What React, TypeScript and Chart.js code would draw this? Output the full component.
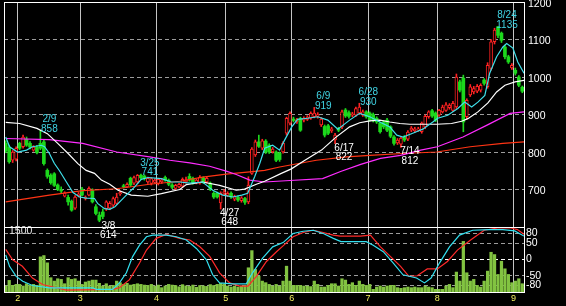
import React, { useEffect, useRef } from 'react';
import { Chart, registerables } from 'chart.js';

Chart.register(...registerables);

// ---- axis data ----
// trading-day index 0..149 (end of Jan .. early Sep); month lines sit at the first day of each month
const monthTickIdx = [3.5, 21.5, 43.5, 63.5, 82.5, 104.5, 124.5, 146.5];
const monthLabels = ['2', '3', '4', '5', '6', '7', '8', '9'];
const priceTicks = [700, 800, 900, 1000, 1100, 1200];
const oscTicks = [80, 50, 0, -50, -80];
const volumeTicks = [1500];

// ---- candles ----
const opens = [823,813,778,781,823,814,834,823,805,813, 823,827,751,738,742,712,699,682,679,669, 650,683,701,676,685,697,654,632,640,649, 650,658,663,688,710,707,730,717,720,738, 736,720,716,719,716,720,732,725,712,703, 707,709,720,735,730,718,717,731,720,717, 690,690,664,690,684,690,674,679,670,676, 667,743,792,827,810,829,818,800,800,797, 800,850,877,888,880,890,885,887,890,894, 895,872,868,870,856,832,862,867,912,905, 898,898,904,898,907,904,900,890,877,880, 885,867,840,824,821,840,834,858,856,859, 854,867,894,910,904,898,907,911,918,911, 920,987,997,894,952,960,962,965,992,974, 1023,1094,1134,1117,1080,1054,1024,1018,1000,973];
const highs = [830,818,804,814,826,845,840,828,817,818, 858,832,755,742,745,715,707,694,685,672, 684,692,706,683,707,702,660,640,648,670, 668,680,690,696,714,718,733,736,740,741, 739,733,732,729,730,730,736,728,716,714, 717,731,733,742,733,728,737,734,733,720, 694,693,694,700,694,694,685,683,681,679, 734,812,832,845,834,833,822,812,803,800, 828,893,907,893,890,893,894,897,907,919, 905,892,872,874,866,850,866,912,916,910, 906,920,930,912,910,907,904,894,880,884, 890,870,844,836,840,844,857,868,866,866, 880,899,910,914,907,914,925,932,929,935, 1008,992,1005,942,980,975,980,982,996,1038, 1100,1130,1135,1120,1085,1058,1036,1024,1004,976];
const lows = [798,770,772,776,806,810,815,808,802,795, 806,765,730,714,708,697,690,680,658,642, 647,680,683,672,683,664,632,614,622,644, 646,654,660,684,704,705,708,713,716,726, 725,716,712,716,712,716,722,710,702,700, 704,706,717,722,714,715,714,716,717,697, 676,677,648,686,681,676,670,668,666,660, 662,740,788,812,806,796,796,797,774,775, 797,845,872,880,876,855,880,884,887,891, 890,868,840,846,852,822,854,862,892,890, 894,895,900,895,890,882,880,876,850,862, 854,838,818,820,812,828,830,854,852,855, 850,862,890,892,881,895,904,908,914,908, 916,960,854,888,948,955,958,960,978,970, 1018,1088,1105,1092,1048,1036,1020,1005,974,958];
const closes = [803,774,800,810,810,840,818,813,813,798, 810,769,735,718,711,700,696,691,667,645, 680,688,685,680,703,667,636,618,628,667, 663,676,680,692,707,714,712,732,738,731, 729,730,729,725,727,726,725,714,706,711, 714,727,726,725,717,725,733,720,730,701, 680,680,690,694,690,680,681,672,678,666, 712,808,827,815,830,800,800,808,778,780, 823,890,903,884,886,858,890,893,903,904, 900,888,845,850,862,845,858,907,896,895, 902,916,920,907,894,885,885,880,854,867, 858,842,823,832,837,832,853,864,862,862, 877,895,907,896,885,911,920,926,925,930, 1000,965,880,938,974,969,975,978,983,1031, 1094,1125,1111,1098,1054,1040,1031,1010,978,962];
const volumes = [138,268,153,176,176,138,191,153,176,153, 811,841,673,330,252,306,291,191,330,291, 306,252,176,230,252,275,275,200,138,191, 138,153,252,215,176,200,160,176,191,176, 160,153,176,138,160,100,138,176,160,150, 120,170,140,130,160,110,150,140,130,170, 150,176,200,176,138,115,138,115,138,153, 559,955,520,367,252,215,176,138,176,138, 252,596,252,153,153,153,138,138,125,252, 176,115,115,153,191,191,138,306,275,176, 215,153,252,176,153,176,62,115,138,115, 138,153,153,100,85,100,115,100,115,100, 100,138,115,100,62,62,62,138,176,100, 460,252,1168,444,252,291,153,115,252,482, 917,864,405,710,535,405,215,252,306,191];

// ---- moving averages: [day index, price] ----
const maShort: [number, number][] = [[0,840],[1.1,814],[3.4,800],[6,805],[7.7,814],[10.3,818],[11.2,814],[12.6,796],[14,770],[15.5,750],[17.5,720],[19.4,692],[21.3,680],[23.2,677],[25.6,676],[26.5,663],[28.5,649],[30,647],[31.5,654],[33.3,671],[35.2,689],[37.2,707],[39.1,727],[41,732],[44.9,729],[47.8,720],[50.2,720],[53.1,717],[56.8,720],[59.7,698],[62.6,685],[65.5,680],[68.1,685],[69.8,690],[71.8,734],[73.3,770],[74.7,810],[77,818],[79,805],[80.4,831],[82.5,867],[84.2,887],[87.1,890],[90,894],[92.9,885],[95.8,861],[99.2,885],[102.1,903],[105,894],[107.9,880],[110.8,867],[112.8,845],[114.6,840],[117.4,850],[120.3,861],[123.2,880],[124.6,890],[127.5,898],[130.4,916],[132.4,933],[134.4,920],[136.2,933],[138.2,951],[139.6,1010],[141.6,1054],[143.4,1080],[144.5,1089],[146.3,1077],[147.7,1040],[149.5,1010]];
const maMid: [number, number][] = [[0,879],[4,876],[9,863],[12,849],[15,823],[18,796],[20.8,769],[23.2,751],[25.6,743],[27.6,725],[30,714],[32.4,698],[36.2,685],[41,682],[44.9,689],[50.2,700],[52.1,713],[56.8,720],[61.7,711],[66.5,698],[68.9,701],[72.3,714],[74.7,722],[79.5,743],[82.4,755],[86.3,778],[91.1,805],[95.2,839],[99.2,867],[102.1,878],[105,883],[107.9,885],[110.8,880],[113.7,876],[116.6,874],[119.5,874],[124.3,874],[128.6,876],[131.5,882],[133.3,889],[136.2,907],[139.1,931],[141.6,960],[144,978],[146.9,987],[149.5,991]];
const maLong: [number, number][] = [[0,836],[12.6,833],[22.2,823],[32,800],[41.5,787],[47.3,778],[53.1,771],[58.8,762],[63.6,749],[66.5,740],[70.4,725],[74.7,720],[82,724],[91.4,729],[96.6,748],[102.4,767],[108.1,783],[113.9,791],[119.7,805],[124.5,814],[131.9,840],[138.7,871],[145.5,903],[149.5,907]];
const maXLong: [number, number][] = [[0,667],[12.6,685],[22.2,697],[32,702],[41.5,714],[50.2,722],[56.8,733],[63.6,741],[70.4,747],[74.7,751],[79,760],[89.6,778],[98.3,787],[105,791],[114.6,796],[124.3,800],[134,814],[143.4,823],[149.5,827]];

// ---- oscillator (lower panel): [day index, value] ----
const oscFast: [number, number][] = [[0,14],[1.1,-21],[3,-52],[4.9,-67],[7.7,-80],[12.6,-87],[25.1,-87],[26.1,-92],[30.8,-92],[32.8,-72],[34.8,-41],[36.6,9],[38.6,44],[40.6,70],[42.4,75],[46.3,75],[49.2,70],[52.1,60],[55,34],[57.9,-1],[59.7,-47],[61.7,-72],[65.5,-75],[69.4,-75],[71.2,-41],[74.1,4],[77,39],[80,52],[82.9,80],[85.8,87],[88.7,90],[91.6,80],[94.5,65],[96.7,55],[104,55],[106,44],[108.9,24],[111.8,-11],[114.6,-47],[118.5,-57],[120.8,-72],[122.7,-57],[125.1,-11],[128,39],[130.9,75],[134.7,90],[139.6,92],[143.4,92],[146.8,88],[149.5,72]];
const oscSlow: [number, number][] = [[0,31],[2,-1],[4.8,-21],[7.7,-57],[10.6,-77],[14.6,-87],[17.5,-94],[30.8,-92],[32.8,-87],[35.7,-62],[38.6,-11],[40.6,29],[43.4,65],[46.3,77],[50.2,65],[53.1,60],[56,39],[58.9,9],[61.7,-41],[64.6,-72],[67.5,-82],[69.9,-82],[72.3,-52],[75.2,-6],[78.1,24],[80,42],[82.9,70],[85.8,83],[88.7,90],[91.6,83],[94.5,75],[96.5,72],[102.3,72],[105.2,75],[108.1,39],[111,9],[113.9,-21],[116.3,-52],[118.7,-50],[121.6,-29],[124.5,-29],[127.4,-6],[130.3,29],[134.1,60],[138,90],[141.8,97],[145.7,97],[147.6,92],[149.5,78]];

// ---- peak / trough annotations ----
const peakIdx = [10, 27, 39, 62, 89, 95, 102, 114, 142];
const peakKind = ['high', 'low', 'high', 'low', 'high', 'low', 'high', 'low', 'high'];
const peakDate = ['2/9', '3/8', '3/25', '4/27', '6/9', '6/17', '6/28', '7/14', '8/24'];

const RED = '#ff2222';
const GREEN = '#1cd81c';
const FONT = 'Liberation Sans';

const framePlugin = {
  id: 'frame',
  afterDatasetsDraw(chart: any) {
    const { ctx, chartArea: a } = chart;
    ctx.save();
    ctx.strokeStyle = '#ffffff';
    ctx.lineWidth = 1;
    ctx.strokeRect(a.left + 0.5, a.top + 0.5, a.right - a.left, a.bottom - a.top);
    ctx.restore();
  },
};

const marksPlugin = {
  id: 'marks',
  afterDraw(chart: any) {
    const { ctx } = chart;
    const xs = chart.scales.x;
    const ys = chart.scales.y;
    ctx.save();
    ctx.font = `10px "${FONT}"`;
    ctx.textAlign = 'center';
    ctx.textBaseline = 'middle';
    peakIdx.forEach((idx, k) => {
      const x = xs.getPixelForValue(idx) + 9;
      if (peakKind[k] === 'high') {
        const y = ys.getPixelForValue(highs[idx]);
        ctx.fillStyle = '#40d4e4';
        ctx.fillText(peakDate[k], x, y - 11);
        ctx.fillText(String(highs[idx]), x, y - 1.5);
      } else {
        const y = ys.getPixelForValue(lows[idx]);
        ctx.fillStyle = '#ffffff';
        ctx.fillText(peakDate[k], x, y + 4);
        ctx.fillText(String(lows[idx]), x, y + 13.5);
      }
    });
    ctx.restore();
  },
};

function xScale(showLabels: boolean) {
  return {
    type: 'linear',
    min: -0.5,
    max: 149.5,
    offset: false,
    afterBuildTicks: (s: any) => {
      s.ticks = monthTickIdx.map((v) => ({ value: v }));
    },
    afterFit: (s: any) => {
      s.height = showLabels ? 14 : 0;
    },
    grid: { color: '#c4c4c4', lineWidth: 1, drawTicks: false, offset: false },
    border: { display: false },
    ticks: {
      display: showLabels,
      autoSkip: false,
      maxRotation: 0,
      color: '#f4f060',
      font: { family: FONT, size: 9 },
      padding: 1,
      callback: (v: any) => {
        const k = monthTickIdx.indexOf(Number(v));
        return k >= 0 ? monthLabels[k] : '';
      },
    },
  };
}

const line = (pts: [number, number][], color: string, axis: string, order: number) => ({
  type: 'line',
  data: pts.map(([x, y]) => ({ x, y })),
  borderColor: color,
  borderWidth: 1.2,
  pointRadius: 0,
  tension: 0,
  yAxisID: axis,
  order,
});

const plain = (v: any) => String(v);

export default function App() {
  const topRef = useRef<HTMLCanvasElement>(null);
  const botRef = useRef<HTMLCanvasElement>(null);

  useEffect(() => {
    document.body.style.margin = '0';
    document.body.style.background = '#000';
    const days = opens.map((_, i) => i);
    const up = (i: number) => closes[i] >= opens[i];

    const top = new Chart(topRef.current as HTMLCanvasElement, {
      type: 'bar',
      data: {
        datasets: [
          line(maShort, '#3fe0ea', 'y', 1),
          line(maMid, '#ffffff', 'y', 2),
          line(maLong, '#ff2cff', 'y', 3),
          line(maXLong, '#ff3414', 'y', 4),
          {
            type: 'bar',
            data: days.map((i) => ({ x: i, y: [opens[i], closes[i]] })),
            backgroundColor: (c: any) => (up(c.dataIndex) ? '#000000' : GREEN),
            borderColor: (c: any) => (up(c.dataIndex) ? RED : GREEN),
            borderWidth: (c: any) => (up(c.dataIndex) ? 1 : 0),
            borderSkipped: false,
            barThickness: 3,
            grouped: false,
            yAxisID: 'y',
            order: 5,
          },
          {
            type: 'bar',
            data: days.map((i) => ({ x: i, y: [lows[i], highs[i]] })),
            backgroundColor: (c: any) => (up(c.dataIndex) ? RED : GREEN),
            borderWidth: 0,
            barThickness: 1,
            grouped: false,
            yAxisID: 'y',
            order: 6,
          },
        ] as any,
      },
      options: {
        animation: false,
        responsive: false,
        devicePixelRatio: 1,
        events: [],
        layout: { padding: { left: 4, top: 2, right: 0, bottom: 13 } },
        plugins: { legend: { display: false }, tooltip: { enabled: false } },
        scales: {
          x: xScale(false),
          y: {
            type: 'linear',
            position: 'right',
            min: 600,
            max: 1200,
            afterBuildTicks: (s: any) => {
              s.ticks = priceTicks.map((v) => ({ value: v }));
            },
            afterFit: (s: any) => {
              s.width = 42;
              s.paddingTop = 0;
              s.paddingBottom = 0;
            },
            grid: {
              color: (c: any) => (c.tick && c.tick.value === 1200 ? 'rgba(0,0,0,0)' : '#9c9c9c'),
              drawTicks: false,
            },
            border: { display: false, dash: [4, 3] },
            ticks: {
              color: '#ffffff',
              font: { family: FONT, size: 10.5 },
              padding: 4,
              labelOffset: 2,
              autoSkip: false,
              callback: plain,
            },
          },
        } as any,
      },
      plugins: [framePlugin, marksPlugin],
    } as any);

    const bottom = new Chart(botRef.current as HTMLCanvasElement, {
      type: 'bar',
      data: {
        datasets: [
          line(oscFast, '#33e0f0', 'o', 1),
          line(oscSlow, '#ff2a2a', 'o', 2),
          {
            type: 'bar',
            data: days.map((i) => ({ x: i, y: volumes[i] })),
            backgroundColor: '#82c341',
            borderWidth: 0,
            barThickness: 2.6,
            grouped: false,
            yAxisID: 'v',
            order: 5,
          },
        ] as any,
      },
      options: {
        animation: false,
        responsive: false,
        devicePixelRatio: 1,
        events: [],
        layout: { padding: { left: 4, top: 5, right: 0, bottom: 0 } },
        plugins: { legend: { display: false }, tooltip: { enabled: false } },
        scales: {
          x: xScale(true),
          v: {
            type: 'linear',
            position: 'left',
            min: 0,
            max: 1500,
            afterBuildTicks: (s: any) => {
              s.ticks = volumeTicks.map((v) => ({ value: v }));
            },
            afterFit: (s: any) => {
              s.width = 0;
              s.paddingTop = 0;
              s.paddingBottom = 0;
            },
            grid: { display: false },
            border: { display: false },
            ticks: {
              mirror: true,
              color: '#e6e6e6',
              font: { family: FONT, size: 10.5 },
              padding: 5,
              labelOffset: 4.5,
              callback: plain,
            },
          },
          o: {
            type: 'linear',
            position: 'right',
            min: -100,
            max: 100,
            afterBuildTicks: (s: any) => {
              s.ticks = oscTicks.map((v) => ({ value: v }));
            },
            afterFit: (s: any) => {
              s.width = 42;
              s.paddingTop = 0;
              s.paddingBottom = 0;
            },
            grid: {
              color: (c: any) => (c.tick && c.tick.value === 0 ? '#ffffff' : '#9c9c9c'),
              drawTicks: false,
            },
            border: { display: false, dash: [4, 3] },
            ticks: {
              color: '#ffffff',
              font: { family: FONT, size: 10.5 },
              padding: 2,
              autoSkip: false,
              callback: plain,
            },
          },
        } as any,
      },
      plugins: [framePlugin],
    } as any);

    return () => {
      top.destroy();
      bottom.destroy();
    };
  }, []);

  return (
    <div style={{ position: 'relative', width: 566, height: 306, background: '#000', overflow: 'hidden' }}>
      <canvas
        ref={botRef}
        width={566}
        height={84}
        style={{ position: 'absolute', left: 0, top: 222, width: 566, height: 84, zIndex: 1 }}
      />
      <canvas
        ref={topRef}
        width={566}
        height={240}
        style={{ position: 'absolute', left: 0, top: 0, width: 566, height: 240, zIndex: 2 }}
      />
    </div>
  );
}
